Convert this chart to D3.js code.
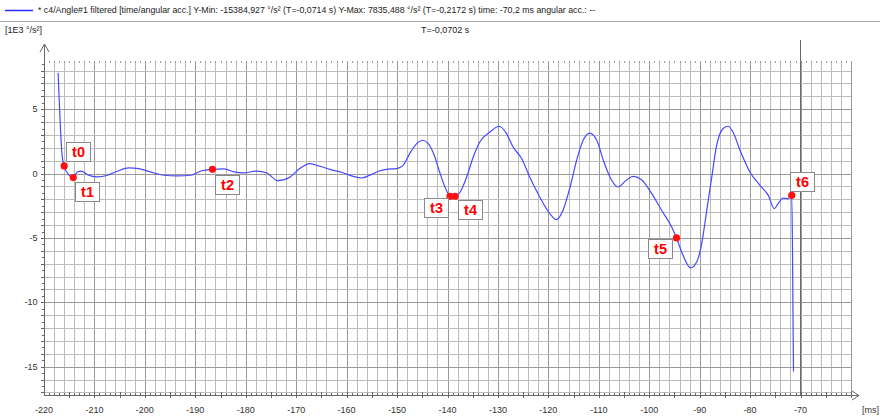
<!DOCTYPE html>
<html>
<head>
<meta charset="utf-8">
<script src="https://cdn.jsdelivr.net/npm/d3@7"></script>
<style>
  body { margin: 0; background: #fff; }
  svg { display: block; font-family: "Liberation Sans", Arial, sans-serif; }
</style>
</head>
<body>
<div id="chart"></div>
<script>
// time [ms] and filtered angular acceleration [1E3 °/s²]
const timeMs = [
  -217.2, -217.0, -216.7, -216.4, -216.0, -215.0, -214.2, -213.4, -212.6, -211.4,
  -209.4, -207.4, -205.5, -203.2, -201.2, -198.9, -196.2, -193.6, -190.9, -188.9,
  -186.6, -184.3, -182.3, -180.4, -177.8, -175.9, -173.6, -171.2, -169.3, -167.3,
  -165.3, -163.3, -160.7, -158.7, -157.0, -155.4, -153.7, -152.1, -150.1, -148.8,
  -147.5, -146.1, -144.9, -143.8, -142.5, -141.5, -139.9, -139.5, -138.5, -137.5,
  -136.2, -134.9, -133.6, -131.6, -129.75, -128.3, -127.0, -125.3, -123.7, -121.7,
  -119.7, -118.4, -117.1, -115.7, -114.4, -113.1, -111.8, -110.4, -109.1, -107.8,
  -106.2, -104.5, -103.2, -101.6, -99.5, -97.55, -95.55, -94.6, -93.3, -91.8,
  -90.6, -89.6, -88.6, -87.6, -86.7, -85.35, -84.35, -83.4, -82.0, -80.05,
  -78.05, -76.4, -75.2, -74.45, -73.45, -72.5, -71.75, -71.6, -71.5, -71.4
];
const accel = [
  7.84, 5.9, 3.2, 1.4, 0.6, -0.13, -0.31, 0.13, 0.2, -0.08,
  -0.26, -0.13, 0.18, 0.45, 0.39, 0.13, -0.13, -0.18, -0.13, 0.2,
  0.33, 0.36, 0.13, 0.05, 0.2, 0.07, -0.55, -0.26, 0.39, 0.78,
  0.57, 0.33, 0.07, -0.21, -0.34, -0.13, 0.18, 0.33, 0.39, 0.64,
  1.55, 2.33, 2.59, 2.33, 1.29, 0.05, -1.55, -1.76, -1.76, -1.43,
  -0.26, 1.29, 2.46, 3.23, 3.68, 3.11, 2.07, 1.17, -0.26, -1.82,
  -3.11, -3.58, -2.85, -1.04, 1.03, 2.59, 3.15, 2.59, 1.03, -0.26,
  -1.04, -0.5, -0.22, -0.45, -1.55, -2.85, -4.15, -5.0, -6.35, -7.33,
  -6.87, -5.44, -2.85, -0.26, 2.07, 3.5, 3.68, 3.23, 1.81, 0.13,
  -0.91, -1.69, -2.72, -2.33, -1.9, -1.94, -1.69, -6.0, -11.0, -15.38
];

const markerNames = ["t0", "t1", "t2", "t3", "t4", "t5", "t6"];
const markerTimes = [-216.0, -214.2, -186.6, -139.5, -138.5, -94.6, -71.75];
const markerValues = [0.6, -0.31, 0.33, -1.76, -1.76, -5.0, -1.69];

const xTickLabels = d3.range(-220, -69, 10);
const yTickLabels = [5, 0, -5, -10, -15];

const headerText = "* c4/Angle#1 filtered [time/angular acc.] Y-Min: -15384,927 \u00b0/s\u00b2 (T=-0,0714 s) Y-Max: 7835,488 \u00b0/s\u00b2 (T=-0,2172 s) time: -70,2 ms angular acc.: --";
const unitText = "[1E3 \u00b0/s\u00b2]";
const cursorText = "T=-0,0702 s";
const cursorTime = -70.2;

// layout: label box offsets (px) from each marker point
const labelOffsets = [[2, -24], [2, 4], [3, 6], [-26, 2], [3, 4], [-28, 1], [-2, -23]];

const width = 880, height = 417;
const plotL = 44, plotR = 851, plotT = 62, plotB = 395;

const svg = d3.select("#chart").append("svg")
  .attr("width", width).attr("height", height);

const x = d3.scaleLinear().domain([-220, -60]).range([plotL, plotR]);
const y = d3.scaleLinear().domain([-17.2, 8.67]).range([plotB, plotT]);

// header
svg.append("line").attr("x1", 5).attr("x2", 33).attr("y1", 10.5).attr("y2", 10.5)
  .attr("stroke", "#2a2aff").attr("stroke-width", 1.5);
svg.append("text").attr("x", 38).attr("y", 13).attr("font-size", 8.8).attr("fill", "#222")
  .text(headerText);
svg.append("line").attr("x1", 0).attr("x2", width).attr("y1", 21.5).attr("y2", 21.5)
  .attr("stroke", "#aaa");
svg.append("text").attr("x", 5).attr("y", 33).attr("font-size", 9).attr("fill", "#222").text(unitText);
svg.append("text").attr("x", 421).attr("y", 33).attr("font-size", 9).attr("fill", "#222").text(cursorText);

// grid
const grid = svg.append("g").attr("shape-rendering", "crispEdges");
grid.selectAll(".vg").data(d3.range(-218, -59, 2)).enter().append("line")
  .attr("x1", d => Math.round(x(d)) + 0.5).attr("x2", d => Math.round(x(d)) + 0.5)
  .attr("y1", plotT).attr("y2", plotB)
  .attr("stroke", d => d % 10 === 0 ? "#999" : "#bcbcbc");
grid.selectAll(".hg").data(d3.range(-17, 9, 1)).enter().append("line")
  .attr("x1", plotL).attr("x2", plotR)
  .attr("y1", d => Math.round(y(d)) + 0.5).attr("y2", d => Math.round(y(d)) + 0.5)
  .attr("stroke", d => d % 5 === 0 ? "#999" : "#bcbcbc");

// top dotted ticks
grid.selectAll(".tt").data(d3.range(-219, -59, 1)).enter().append("line")
  .attr("x1", d => Math.round(x(d)) + 0.5).attr("x2", d => Math.round(x(d)) + 0.5)
  .attr("y1", plotT - 1).attr("y2", plotT + 1).attr("stroke", "#999");

// cursor line
svg.append("line")
  .attr("x1", Math.round(x(cursorTime)) + 0.5).attr("x2", Math.round(x(cursorTime)) + 0.5)
  .attr("y1", 40).attr("y2", plotB).attr("stroke", "#6a6a6a").attr("shape-rendering", "crispEdges");

// axes
const axes = svg.append("g").attr("stroke", "#666").attr("shape-rendering", "crispEdges");
axes.append("line").attr("x1", plotL).attr("x2", 858).attr("y1", plotB + 0.5).attr("y2", plotB + 0.5);
axes.append("line").attr("x1", plotL + 0.5).attr("x2", plotL + 0.5).attr("y1", 45).attr("y2", plotB);
svg.append("path").attr("d", `M852,${plotB - 4} L859,${plotB + 0.5} L852,${plotB + 5}`)
  .attr("fill", "none").attr("stroke", "#666");
svg.append("path").attr("d", `M${plotL - 4},52 L${plotL + 0.5},44 L${plotL + 5},52`)
  .attr("fill", "none").attr("stroke", "#666");

axes.selectAll(".xt").data(d3.range(-219, -59, 1)).enter().append("line")
  .attr("x1", d => Math.round(x(d)) + 0.5).attr("x2", d => Math.round(x(d)) + 0.5)
  .attr("y1", d => d % 5 === 0 ? plotB - 3 : plotB - 2)
  .attr("y2", d => d % 5 === 0 ? plotB + 3 : plotB);
axes.selectAll(".yt").data(d3.range(-17, 8.6, 0.5)).enter().append("line")
  .attr("y1", d => Math.round(y(d)) + 0.5).attr("y2", d => Math.round(y(d)) + 0.5)
  .attr("x1", d => d % 1 === 0 ? plotL - 3 : plotL - 2).attr("x2", plotL);

svg.selectAll(".xl").data(xTickLabels).enter().append("text")
  .attr("x", d => x(d)).attr("y", 413).attr("text-anchor", "middle")
  .attr("font-size", 9).attr("fill", "#333").text(d => d);
svg.append("text").attr("x", 879).attr("y", 413).attr("text-anchor", "end")
  .attr("font-size", 9).attr("fill", "#333").text("[ms]");
svg.selectAll(".yl").data(yTickLabels).enter().append("text")
  .attr("x", 37.5).attr("y", d => y(d) + 3).attr("text-anchor", "end")
  .attr("font-size", 9).attr("fill", "#333").text(d => d);

// curve
const series = timeMs.map((t, i) => [t, accel[i]]);
svg.append("path").datum(series)
  .attr("fill", "none").attr("stroke", "#4848ff").attr("stroke-width", 1.2)
  .attr("d", d3.line().x(d => x(d[0])).y(d => y(d[1])).curve(d3.curveMonotoneX));

// markers
const markers = markerNames.map((n, i) => ({ name: n, t: markerTimes[i], v: markerValues[i], off: labelOffsets[i] }));
svg.selectAll(".dot").data(markers).enter().append("circle")
  .attr("cx", d => x(d.t)).attr("cy", d => y(d.v)).attr("r", 3.6).attr("fill", "#ff1010");
const lbl = svg.selectAll(".lbl").data(markers).enter().append("g")
  .attr("transform", d => `translate(${Math.round(x(d.t) + d.off[0])},${Math.round(y(d.v) + d.off[1])})`);
lbl.append("rect").attr("x", 0.5).attr("y", 0.5).attr("width", 24).attr("height", 19)
  .attr("fill", "#fff").attr("stroke", "#8a8a8a");
lbl.append("text").attr("x", 12.5).attr("y", 15).attr("text-anchor", "middle")
  .attr("font-size", 14.5).attr("font-weight", "bold").attr("fill", "#ff0000").text(d => d.name);
</script>
</body>
</html>
